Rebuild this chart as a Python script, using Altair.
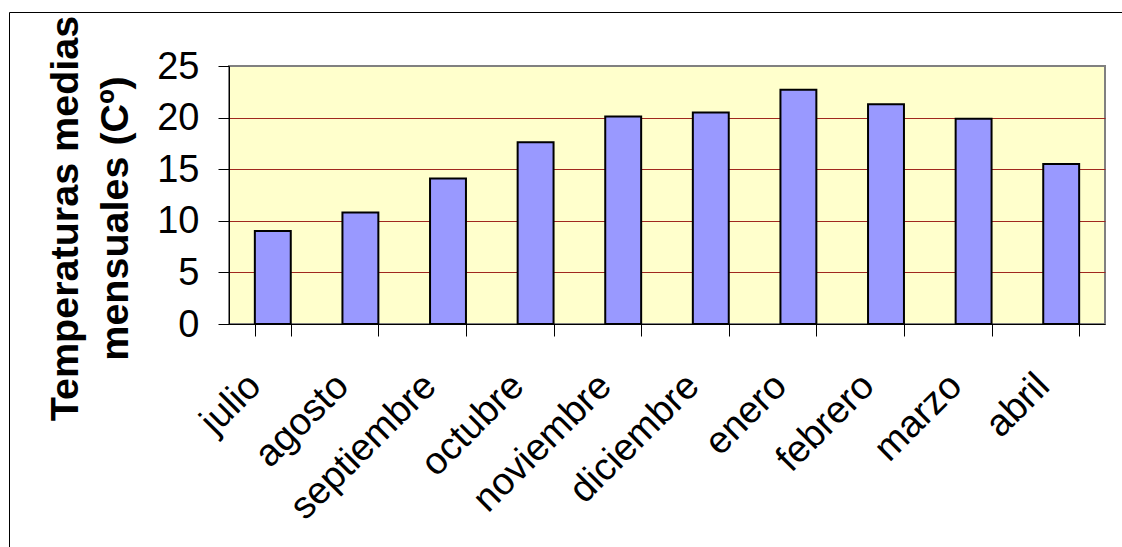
import altair as alt
import pandas as pd

# Temperaturas medias mensuales (julio a abril)
meses = ["julio", "agosto", "septiembre", "octubre", "noviembre",
         "diciembre", "enero", "febrero", "marzo", "abril"]
temperaturas = [9.0, 10.8, 14.1, 17.6, 20.1, 20.5, 22.7, 21.3, 19.9, 15.5]
marcas_y = [0, 5, 10, 15, 20, 25]

df = pd.DataFrame({"mes": meses, "temp": temperaturas})

FONT = "Liberation Sans"

barras = alt.Chart(df).mark_bar(
    fill="#9999FF", stroke="black", strokeWidth=2
).encode(
    x=alt.X(
        "mes:N",
        sort=meses,
        scale=alt.Scale(paddingInner=0.59, paddingOuter=0.295),
        axis=alt.Axis(
            title=None,
            labelAngle=-45,
            labelAlign="right",
            labelBaseline="middle",
            labelFontSize=38,
            labelFont=FONT,
            labelColor="black",
            labelLimit=0,
            labelPadding=44,
            labelOffset=-18,
            labelOverlap=False,
            tickBand="extent",
            tickSize=12,
            tickColor="black",
            domainColor="black",
            domainWidth=1,
            grid=False,
        ),
    ),
    y=alt.Y(
        "temp:Q",
        scale=alt.Scale(domain=[0, 25], nice=False),
        axis=alt.Axis(
            values=marcas_y,
            title=["Temperaturas medias", "mensuales (Cº)"],
            titleFont=FONT,
            titleFontSize=39.5,
            titleFontWeight="bold",
            titleColor="black",
            titleAngle=-90,
            titleAlign="center",
            titleBaseline="alphabetic",
            titleLineHeight=50,
            titleX=-152,
            titleY=152,
            labelFontSize=38,
            labelFont=FONT,
            labelColor="black",
            labelPadding=19,
            labelOffset=1,
            tickSize=11,
            tickColor="black",
            domainColor="black",
            domainWidth=1,
            grid=True,
            gridColor="#A0281E",
            gridWidth=1,
            gridOpacity={"condition": {"test": "datum.value === 0 || datum.value === 25", "value": 0}, "value": 1},
        ),
    ),
)

# marco exterior del gráfico
marco = alt.Chart(pd.DataFrame({"k": [0]})).mark_rect(
    fill=None, stroke="black", strokeWidth=1
).encode(
    x=alt.value(-219.5),
    x2=alt.value(900),
    y=alt.value(-53.5),
    y2=alt.value(490),
)

chart = alt.layer(barras, marco).properties(
    width=876,
    height=258,
    autosize=alt.AutoSizeParams(type="none"),
    padding={"left": 229, "top": 66, "right": 17, "bottom": 223},
    background="white",
).configure_view(
    fill="#FFFFCC", stroke="#808080", strokeWidth=2
)

chart.save("out.html", embed_options={"renderer": "svg", "actions": False})
